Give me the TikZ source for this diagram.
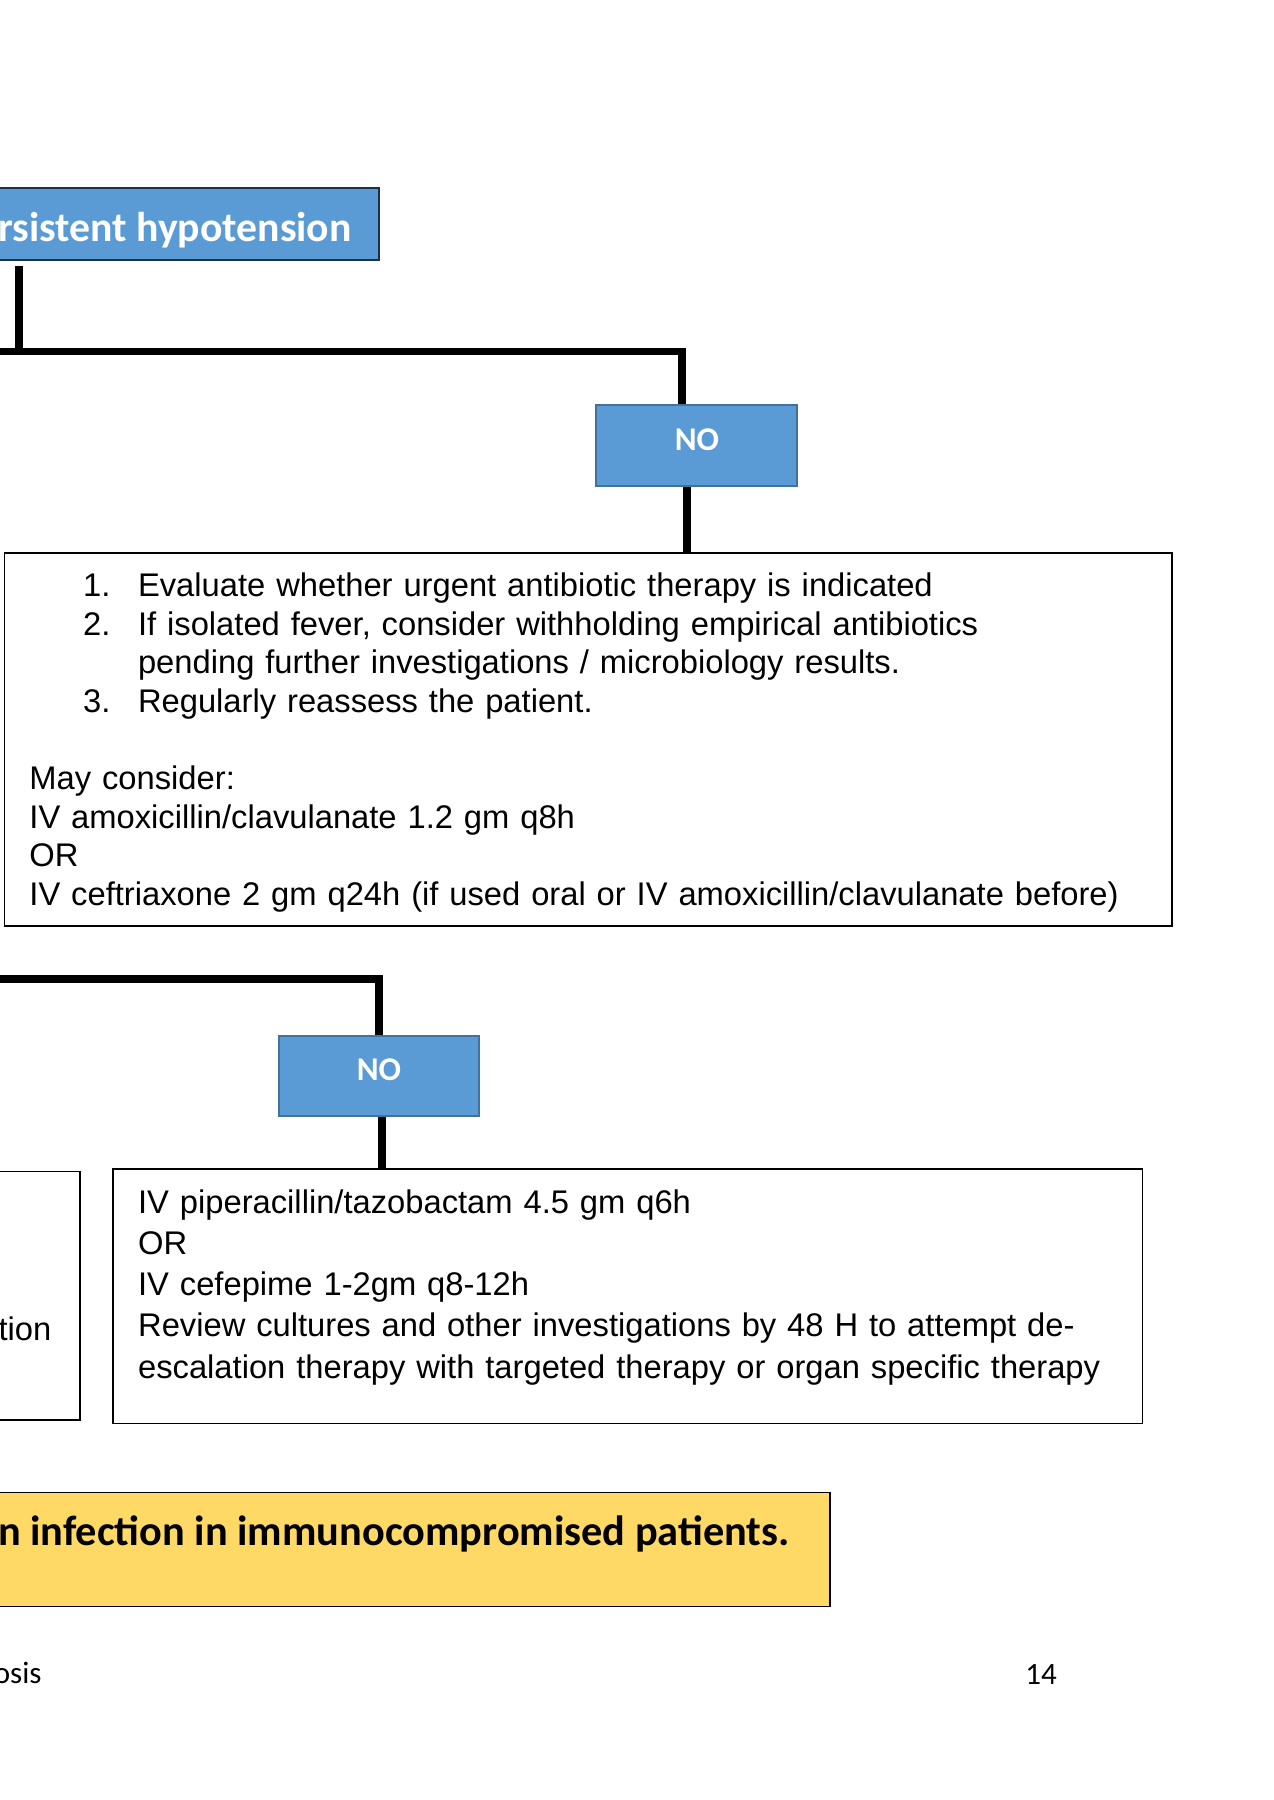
\documentclass[tikz,border=0pt]{standalone}
\usepackage{fontspec}
\setmainfont{Liberation Sans}
\newfontfamily\calibri{Carlito}
\usetikzlibrary{fit}
\definecolor{boxblue}{HTML}{5B9BD5}
\definecolor{boxblueedge}{HTML}{41719C}
\definecolor{topedge}{HTML}{1F2F4A}
\definecolor{noteyellow}{HTML}{FFD966}
\begin{document}
\begin{tikzpicture}[x=0.46764pt,y=-0.46764pt,
  conn/.style={line width=3.7pt, line join=miter},
  bluebox/.style={draw=boxblueedge, line width=1.1pt, fill=boxblue, inner sep=0pt},
  notext/.style={inner sep=0pt, anchor=base, text=white, font=\calibri\bfseries\fontsize{15.5}{18}\selectfont},
  textbox/.style={draw=black, line width=0.7pt, inner sep=0pt},
  body/.style={inner sep=0pt, anchor=base west, align=left, font=\fontsize{15.3}{18.05}\selectfont},
  heading/.style={inner sep=0pt, font=\calibri\bfseries\fontsize{19.5}{23}\selectfont},
  footer/.style={inner sep=0pt, font=\calibri\fontsize{14.5}{17}\selectfont},
]
\useasboundingbox (0,0) rectangle (1273,1800);

% boxes
\node[bluebox, draw=topedge, line width=0.9pt, fit={(-10,188) (379,260)}] (topbox) {};
\node[heading, anchor=base east, text=white] (toptext) at (352,241.7) {rsistent hypotension};

\node[bluebox, fit={(596,405) (797,486)}] (no1) {};
\node[notext] (no1text) at (697,450) {NO};
\node[textbox, fit={(4.6,553) (1172,926)}] (box1) {};
\node[body, text width=530pt] (b1text) at (29,596.5) {%
\hspace*{25.1pt}\makebox[25.7pt][l]{1.}Evaluate whether urgent antibiotic therapy is indicated\\
\hspace*{25.1pt}\makebox[25.7pt][l]{2.}If isolated fever, consider withholding empirical antibiotics\\
\hspace*{50.8pt}pending further investigations / microbiology results.\\
\hspace*{25.1pt}\makebox[25.7pt][l]{3.}Regularly reassess the patient.\\[18.05pt]
May consider:\\
IV amoxicillin/clavulanate 1.2 gm q8h\\
OR\\
IV ceftriaxone 2 gm q24h (if used oral or IV amoxicillin/clavulanate before)};

\node[bluebox, fit={(279,1036) (479,1116)}] (no2) {};
\node[notext] (no2text) at (379,1080) {NO};
\node[textbox, fit={(-10,1171.7) (80,1420)}] (box3) {};
\node[body, anchor=base east] (lefttext) at (51.7,1340) {tion};
\node[textbox, fit={(113,1169) (1142.5,1423.5)}] (box2) {};
\node[body, font=\fontsize{15.3}{19.3}\selectfont, text width=470pt] (b2text) at (137.7,1213) {%
IV piperacillin/tazobactam 4.5 gm q6h\\
OR\\
IV cefepime 1-2gm q8-12h\\
Review cultures and other investigations by 48 H to attempt de-\\
escalation therapy with targeted therapy or organ specific therapy};

\node[textbox, fill=noteyellow, fit={(-10,1492.3) (830,1606.5)}] (note) {};
\node[heading, font=\calibri\bfseries\fontsize{19.8}{24}\selectfont, anchor=base east] (notetext) at (790,1545) {n infection in immunocompromised patients.};

\node[footer, anchor=base east] (footl) at (42,1683) {osis};
\node[footer, anchor=base west] (footr) at (1025,1684) {14};

% connectors
\coordinate (t0) at (18.7,266);
\coordinate (j1) at (18.7,351.5);
\coordinate (j0) at (-5,351.5);
\coordinate (v0) at (682,400);
\coordinate (v1) at (687,520);
\coordinate (j2) at (-5,979);
\coordinate (v2) at (382,1140);

\draw[conn] (t0) -- (j1);
\draw[conn] (j0) -- (v0 |- j0) -- (v0 |- no1.north);
\draw[conn] (v1 |- no1.south) -- (v1 |- box1.north);
\draw[conn] (j2) -| (no2.north);
\draw[conn] (v2 |- no2.south) -- (v2 |- box2.north);
\end{tikzpicture}
\end{document}
